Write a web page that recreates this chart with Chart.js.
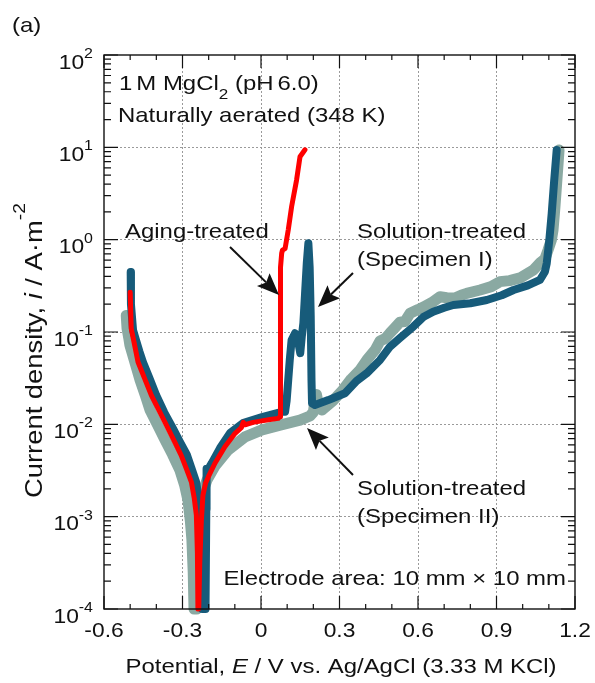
<!DOCTYPE html>
<html>
<head>
<meta charset="utf-8">
<script src="https://cdn.jsdelivr.net/npm/chart.js@4.4.0/dist/chart.umd.min.js"></script>
<style>
  html, body { margin: 0; padding: 0; background: #fff; }
  canvas { display: block; }
</style>
</head>
<body>
<canvas id="polarization" width="595" height="683"></canvas>
<script>
// potentiodynamic polarization curves, E (V vs Ag/AgCl) against i (A m^-2)
var agingE = [-0.500, -0.496, -0.485, -0.470, -0.445, -0.419, -0.388, -0.355, -0.330, -0.305, -0.285, -0.266, -0.255, -0.247, -0.243, -0.241,
  -0.238, -0.234, -0.228, -0.222, -0.212, -0.201, -0.176, -0.138, -0.099, -0.075, -0.068, -0.061, -0.030, 0.003, 0.035, 0.066,
  0.073, 0.073, 0.076, 0.079, 0.082, 0.092, 0.104, 0.117, 0.136, 0.149, 0.168];
var agingI = [0.27, 0.109, 0.077, 0.0473, 0.0315, 0.0206, 0.0138, 0.00896, 0.00645, 0.00461, 0.0033, 0.00237, 0.00158, 0.00104, 0.0004, 0.0001,
  0.0001, 0.00032, 0.0009, 0.0017, 0.0023, 0.00271, 0.00379, 0.00573, 0.0080, 0.0092, 0.0105, 0.0099, 0.0105, 0.0109, 0.0113, 0.0116,
  0.0121, 0.241, 0.50, 0.71, 0.77, 0.80, 1.27, 2.28, 4.43, 7.9, 9.4];

var spec1E = [-0.498, -0.497, -0.489, -0.478, -0.465, -0.451, -0.425, -0.401, -0.370, -0.336, -0.310, -0.283, -0.265, -0.248, -0.238, -0.231,
  -0.228, -0.225, -0.212, -0.209, -0.208, -0.204, -0.198, -0.188, -0.157, -0.118, -0.069, 0.004, 0.065, 0.080, 0.092, 0.098,
  0.104, 0.110, 0.117, 0.130, 0.140, 0.150, 0.156, 0.162, 0.168, 0.175, 0.181, 0.186, 0.190, 0.193, 0.195, 0.206,
  0.257, 0.321, 0.365, 0.404, 0.455, 0.493, 0.531, 0.582, 0.620, 0.658, 0.700, 0.735, 0.800, 0.863, 0.920, 0.965,
  1.020, 1.066, 1.085, 1.092, 1.102, 1.111, 1.120, 1.130];
var spec1I = [0.447, 0.20, 0.105, 0.082, 0.062, 0.047, 0.031, 0.0208, 0.0135, 0.00896, 0.00645, 0.00466, 0.0033, 0.00237, 0.0016, 0.00104,
  0.00045, 0.0001, 0.0001, 0.0012, 0.0033, 0.0030, 0.0034, 0.0038, 0.0055, 0.00805, 0.0103, 0.0120, 0.0133, 0.0138, 0.0137, 0.018,
  0.030, 0.050, 0.082, 0.097, 0.085, 0.059, 0.090, 0.125, 0.25, 0.558, 0.914, 0.50, 0.15, 0.030, 0.0169, 0.0162,
  0.0183, 0.0217, 0.0295, 0.0357, 0.0498, 0.0694, 0.0861, 0.114, 0.145, 0.166, 0.183, 0.196, 0.205, 0.222, 0.25, 0.285,
  0.32, 0.366, 0.45, 0.555, 1.0, 1.93, 4.2, 9.35];

var spec2E = [-0.515, -0.512, -0.505, -0.501, -0.480, -0.462, -0.443, -0.424, -0.395, -0.367, -0.338, -0.310, -0.292, -0.279, -0.270, -0.264,
  -0.259, -0.256, -0.245, -0.238, -0.232, -0.226, -0.216, -0.206, -0.176, -0.126, -0.061, 0.004, 0.073, 0.149, 0.187, 0.200,
  0.205, 0.212, 0.220, 0.233, 0.275, 0.313, 0.345, 0.378, 0.405, 0.436, 0.455, 0.475, 0.493, 0.510, 0.531, 0.550,
  0.570, 0.600, 0.627, 0.655, 0.684, 0.710, 0.741, 0.765, 0.786, 0.837, 0.880, 0.913, 0.950, 0.990, 1.041, 1.066,
  1.085, 1.097, 1.110, 1.116, 1.123, 1.128, 1.139];
var spec2I = [0.151, 0.11, 0.085, 0.072, 0.045, 0.030, 0.021, 0.0143, 0.0098, 0.0068, 0.0047, 0.0032, 0.0022, 0.0015, 0.0009, 0.00056,
  0.00025, 0.0001, 0.0001, 0.0004, 0.0011, 0.0015, 0.0021, 0.0025, 0.00354, 0.00527, 0.0073, 0.0087, 0.0098, 0.0111, 0.0123, 0.0135,
  0.017, 0.021, 0.016, 0.0143, 0.018, 0.0236, 0.031, 0.0387, 0.050, 0.0638, 0.080, 0.085, 0.0975, 0.110, 0.128, 0.130,
  0.160, 0.175, 0.191, 0.210, 0.241, 0.235, 0.233, 0.250, 0.262, 0.285, 0.310, 0.351, 0.360, 0.385, 0.469, 0.558,
  0.62, 0.773, 1.0, 1.27, 2.2, 3.45, 9.35];

var xLabels = ['-0.6', '-0.3', '0', '0.3', '0.6', '0.9', '1.2'];
var xGrid = [-0.3, 0, 0.3, 0.6, 0.9];
var yExponents = [-4, -3, -2, -1, 0, 1, 2];
var yGrid = [1e-3, 1e-2, 1e-1, 1, 10];

function pairs(xs, ys) {
  return xs.map(function (v, k) { return { x: v, y: ys[k] }; });
}

var FONT = '"Liberation Sans", Arial, sans-serif';
var SX = 1.14; // glyphs in this figure are a little wider than plain Arial

function runFont(r, size) {
  var s = (r.sub || r.sup) ? Math.round(size * 0.7) : size;
  return (r.it ? 'italic ' : '') + s + 'px ' + FONT;
}
function richWidth(ctx, runs, size) {
  var w = 0;
  runs.forEach(function (r) { ctx.font = runFont(r, size); w += ctx.measureText(r.t).width * SX; });
  return w;
}
function drawRich(ctx, runs, x, y, size, align, rise) {
  var w = richWidth(ctx, runs, size);
  var cx = align === 'right' ? x - w : (align === 'center' ? x - w / 2 : x);
  runs.forEach(function (r) {
    ctx.font = runFont(r, size);
    var dy = r.sub ? size * 0.45 : (r.sup ? -size * (rise || 0.5) : 0);
    ctx.save();
    ctx.translate(cx, y + dy);
    ctx.scale(SX, 1);
    ctx.fillText(r.t, 0, 0);
    ctx.restore();
    cx += ctx.measureText(r.t).width * SX;
  });
}
function arrow(ctx, x1, y1, x2, y2) {
  var ang = Math.atan2(y2 - y1, x2 - x1), len = 22, half = 9, notch = 4;
  var c = Math.cos(ang), s = Math.sin(ang);
  ctx.beginPath();
  ctx.moveTo(x1, y1);
  ctx.lineTo(x2 - c * (len - notch), y2 - s * (len - notch));
  ctx.lineWidth = 2;
  ctx.stroke();
  ctx.beginPath();
  ctx.moveTo(x2, y2);
  ctx.lineTo(x2 - c * len - s * half, y2 - s * len + c * half);
  ctx.lineTo(x2 - c * (len - notch), y2 - s * (len - notch));
  ctx.lineTo(x2 - c * len + s * half, y2 - s * len - c * half);
  ctx.closePath();
  ctx.fill();
}

var axesAndNotes = {
  id: 'axesAndNotes',
  afterDatasetsDraw: function (chart) {
    var ctx = chart.ctx, a = chart.chartArea, xs = chart.scales.x, ys = chart.scales.y;
    ctx.save();
    ctx.strokeStyle = '#111';
    ctx.fillStyle = '#111';
    ctx.lineWidth = 1.4;
    ctx.strokeRect(a.left, a.top, a.right - a.left, a.bottom - a.top);

    // ticks point inward on all four sides
    ctx.lineWidth = 1.2;
    ctx.beginPath();
    for (var k = 0; k <= 18; k++) {
      var px = xs.getPixelForValue(-0.6 + k * 0.1);
      var L = k % 3 === 0 ? 13 : 5;
      ctx.moveTo(px, a.bottom); ctx.lineTo(px, a.bottom - L);
      ctx.moveTo(px, a.top); ctx.lineTo(px, a.top + L);
    }
    yExponents.forEach(function (e) {
      for (var m = 1; m <= 9; m++) {
        if (e === 2 && m > 1) break;
        var py = ys.getPixelForValue(m * Math.pow(10, e));
        var L = m === 1 ? 14 : 7;
        ctx.moveTo(a.left, py); ctx.lineTo(a.left + L, py);
        ctx.moveTo(a.right, py); ctx.lineTo(a.right - L, py);
      }
    });
    ctx.stroke();

    // tick labels
    ctx.textBaseline = 'alphabetic';
    xLabels.forEach(function (t) {
      drawRich(ctx, [{ t: t }], xs.getPixelForValue(parseFloat(t)), 637, 20, 'center');
    });
    yExponents.forEach(function (e) {
      drawRich(ctx, [{ t: '10' }, { t: String(e), sup: true }], 93, ys.getPixelForValue(Math.pow(10, e)) + 13.5, 20, 'right', 0.52);
    });

    // axis titles
    drawRich(ctx, [{ t: 'Potential, ' }, { t: 'E', it: true }, { t: ' / V vs. Ag/AgCl (3.33 M KCl)' }], 341, 673, 21, 'center');
    ctx.save();
    ctx.translate(42, 498);
    ctx.rotate(-Math.PI / 2);
    drawRich(ctx, [{ t: 'Current density, ' }, { t: 'i', it: true }, { t: ' / A\u00b7m' }, { t: '-2', sup: true }], 0, 0, 24, 'left', 0.72);
    ctx.restore();

    // notes
    drawRich(ctx, [{ t: '(a)' }], 12, 32, 21, 'left');
    drawRich(ctx, [{ t: '1\u2006M MgCl' }, { t: '2', sub: true }, { t: ' (pH\u20066.0)' }], 119, 90, 21, 'left');
    drawRich(ctx, [{ t: 'Naturally aerated (348 K)' }], 118, 122, 21, 'left');
    drawRich(ctx, [{ t: 'Aging-treated' }], 125, 238, 21, 'left');
    drawRich(ctx, [{ t: 'Solution-treated' }], 357, 238, 21, 'left');
    drawRich(ctx, [{ t: '(Specimen I)' }], 357, 266, 21, 'left');
    drawRich(ctx, [{ t: 'Solution-treated' }], 357, 495, 21, 'left');
    drawRich(ctx, [{ t: '(Specimen II)' }], 357, 523, 21, 'left');
    drawRich(ctx, [{ t: 'Electrode area: 10 mm \u00d7 10 mm' }], 566, 585, 21, 'right');

    arrow(ctx, 230, 247, 279, 295);
    arrow(ctx, 353, 273, 318, 307);
    arrow(ctx, 353, 475, 307, 428);
    ctx.restore();
  }
};

function curve(data, color, width) {
  return {
    data: data,
    borderColor: color,
    backgroundColor: color,
    borderWidth: width,
    borderCapStyle: 'round',
    borderJoinStyle: 'round',
    pointRadius: 0,
    tension: 0,
    fill: false,
    clip: false
  };
}

new Chart(document.getElementById('polarization'), {
  type: 'line',
  data: {
    datasets: [
      curve(pairs(agingE, agingI), '#ff0000', 5),
      curve(pairs(spec1E, spec1I), '#175b7a', 8),
      curve(pairs(spec2E, spec2I), '#8aa9a2', 11)
    ]
  },
  options: {
    responsive: false,
    animation: false,
    devicePixelRatio: 1,
    layout: { padding: { left: 104, right: 20, top: 55, bottom: 74 } },
    plugins: { legend: { display: false }, tooltip: { enabled: false } },
    scales: {
      x: {
        type: 'linear', min: -0.6, max: 1.2,
        afterBuildTicks: function (s) { s.ticks = xGrid.map(function (v) { return { value: v }; }); },
        afterFit: function (s) { s.height = 0; },
        ticks: { display: false },
        grid: { color: '#9a9a9a', lineWidth: 1, drawTicks: false },
        border: { display: false, dash: [2, 2] }
      },
      y: {
        type: 'logarithmic', min: 1e-4, max: 100,
        afterBuildTicks: function (s) { s.ticks = yGrid.map(function (v) { return { value: v }; }); },
        afterFit: function (s) { s.width = 0; },
        ticks: { display: false },
        grid: { color: '#9a9a9a', lineWidth: 1, drawTicks: false },
        border: { display: false, dash: [2, 2] }
      }
    }
  },
  plugins: [axesAndNotes]
});
</script>
</body>
</html>
